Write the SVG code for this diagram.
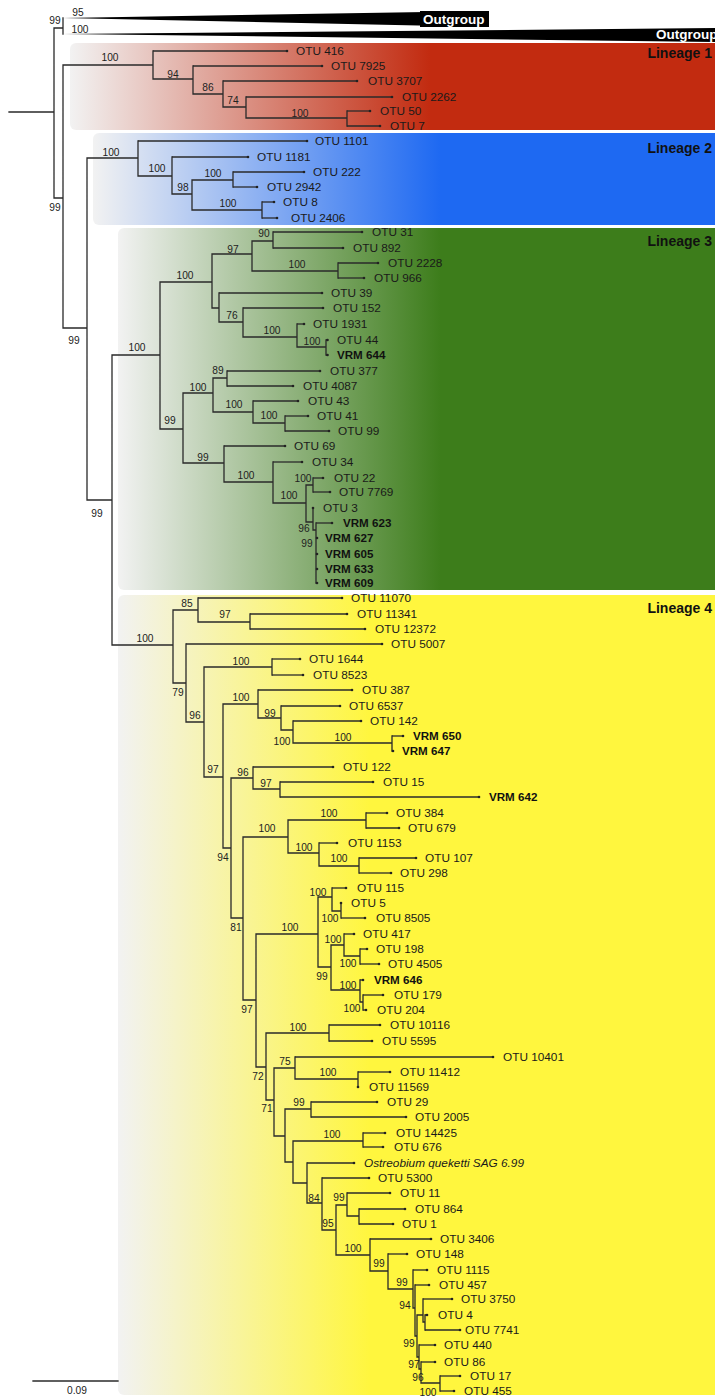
<svg xmlns="http://www.w3.org/2000/svg" width="715" height="1398" viewBox="0 0 715 1398">
<style>
.br{fill:none;stroke:#2a2a2a;stroke-width:1.3;stroke-linecap:square}
.tp{fill:none;stroke:#2a2a2a;stroke-width:1.3;marker-end:url(#dot)}
.lb{font-family:"Liberation Sans",Arial,sans-serif;font-size:11.8px;fill:#1a1a1a}
.vr{font-family:"Liberation Sans",Arial,sans-serif;font-size:11.6px;font-weight:bold;fill:#111}
.it{font-family:"Liberation Sans",Arial,sans-serif;font-size:11.8px;font-style:italic;fill:#1a1a1a}
.sp{font-family:"Liberation Sans",Arial,sans-serif;font-size:10.2px;fill:#222;text-anchor:middle}
.ln{font-family:"Liberation Sans",Arial,sans-serif;font-size:14px;font-weight:bold;fill:#111;text-anchor:end}
.og{font-family:"Liberation Sans",Arial,sans-serif;font-size:13.5px;font-weight:bold;fill:#fff}
</style>
<defs>
<marker id="dot" markerWidth="4" markerHeight="4" refX="2" refY="2" markerUnits="userSpaceOnUse"><circle cx="2" cy="2" r="1.3" fill="#222"/></marker>
<linearGradient id="gRed" gradientUnits="userSpaceOnUse" x1="70" y1="0" x2="430" y2="0"><stop offset="0" stop-color="#f2f2f2"/><stop offset="1" stop-color="#c22b10"/></linearGradient>
<linearGradient id="gBlue" gradientUnits="userSpaceOnUse" x1="93" y1="0" x2="440" y2="0"><stop offset="0" stop-color="#f2f2f2"/><stop offset="1" stop-color="#1e69f2"/></linearGradient>
<linearGradient id="gGreen" gradientUnits="userSpaceOnUse" x1="118" y1="0" x2="440" y2="0"><stop offset="0" stop-color="#f2f2f2"/><stop offset="1" stop-color="#3d7d1b"/></linearGradient>
<linearGradient id="gYellow" gradientUnits="userSpaceOnUse" x1="118" y1="0" x2="370" y2="0"><stop offset="0" stop-color="#f2f2f2"/><stop offset="1" stop-color="#fff63e"/></linearGradient>
</defs>
<rect width="715" height="1398" fill="#fff"/>

<g id="lineage-boxes">
<rect x="70" y="43" width="660" height="87" rx="6" fill="url(#gRed)"/>
<rect x="93" y="133" width="640" height="92" rx="6" fill="url(#gBlue)"/>
<rect x="118" y="228" width="620" height="362" rx="6" fill="url(#gGreen)"/>
<rect x="118" y="595" width="620" height="800" rx="6" fill="url(#gYellow)"/>
<text class="ln" x="712" y="58">Lineage 1</text>
<text class="ln" x="712" y="153">Lineage 2</text>
<text class="ln" x="712" y="246">Lineage 3</text>
<text class="ln" x="712" y="613">Lineage 4</text>
</g>

<g id="outgroup-1">
<polygon points="63,18 489,11 489,27" fill="#000"/>
<rect x="420" y="11" width="69" height="16" fill="#000"/>
<text class="og" x="423" y="24">Outgroup</text>
</g>
<g id="outgroup-2">
<polygon points="63,34 715,28 715,42" fill="#000"/>
<text class="og" x="656" y="39">Outgroup</text>
</g>

<g id="connectors">
<path class="br" d="M9,112H54 M54,28V198 M54,28H63 M63,18V34 M54,198H63 M63,65V328 M63,328H87 M87,158V500 M87,500H112 M112,355V645
M63,65H153 M153,51V79 M153,79H193 M193,66V94 M193,94H223 M223,81V107 M223,107H246 M246,97V118 M246,118H347 M347,111V126
M87,158H138 M138,141V176 M138,176H172 M172,157V194 M172,194H192 M192,180V210 M192,180H233 M233,172V187 M192,210H262 M262,202V218
M112,355H160 M160,282V429 M160,282H212 M212,254V308 M212,254H252 M252,241V271 M252,241H273 M273,232V248 M252,271H338 M338,263V278
M212,308H219 M219,293V322 M219,322H243 M243,308V337 M243,337H297 M297,324V347 M297,347H326 M326,340V355
M160,429H183 M183,393V463 M183,393H213 M213,378V412 M213,378H227 M227,371V386 M213,412H253 M253,401V423 M253,423H285 M285,416V431
M183,463H224 M224,446V482 M224,482H273 M273,462V503 M273,503H306 M306,485V522 M306,485H313 M313,478V492 M306,522H313 M313,508V530 M313,530H316 M316,523V583
M112,645H173 M173,610V683 M173,610H198 M198,598V622 M198,622H250 M250,614V629 M173,683H186 M186,644V722 M186,722H204 M204,667V777
M204,667H272 M272,659V675 M204,777H223 M223,704V848 M223,704H258 M258,690V718 M258,718H281 M281,706V730 M281,730H293 M293,721V743 M293,743H392 M392,736V751
M223,848H231 M231,778V918 M231,778H253 M253,767V789 M253,789H280 M280,782V797
M231,918H243 M243,837V1000 M243,837H288 M288,820V853 M288,820H366 M366,813V828 M288,853H319 M319,843V866 M319,866H359 M359,858V873
M243,1000H256 M256,934V1067 M256,934H318 M318,897V967 M318,897H332 M332,888V911 M332,911H341 M341,903V918
M318,967H331 M331,945V990 M331,945H344 M344,934V956 M344,956H360 M360,949V964 M331,990H360 M360,980V1002 M360,1002H363 M363,995V1010
M256,1067H266 M266,1033V1100 M266,1033H329 M329,1025V1041 M266,1100H274 M274,1068V1136 M274,1068H295 M295,1057V1079 M295,1079H358 M358,1072V1087
M274,1136H285 M285,1109V1162 M285,1109H311 M311,1102V1117 M285,1162H293 M293,1141V1183 M293,1141H363 M363,1133V1147 M293,1183H307 M307,1163V1203
M307,1203H322 M322,1178V1230 M322,1230H336 M336,1205V1255 M336,1205H347 M347,1193V1216 M347,1216H359 M359,1209V1224
M336,1255H370 M370,1239V1271 M370,1271H388 M388,1254V1289 M388,1289H413 M413,1270V1308 M413,1308H415 M415,1285V1336 M415,1336H417 M417,1315V1357
M417,1315H423 M423,1299V1322 M423,1322H425 M425,1315V1330 M417,1357H419 M419,1345V1369 M419,1369H421 M421,1362V1383 M421,1383H440 M440,1376V1391"/>
<path class="tp" d="M153,51H287"/>
<path class="tp" d="M193,66H322"/>
<path class="tp" d="M223,81H357"/>
<path class="tp" d="M246,97H392"/>
<path class="tp" d="M347,111H370"/>
<path class="tp" d="M347,126H380"/>
<path class="tp" d="M138,141H307"/>
<path class="tp" d="M172,157H248"/>
<path class="tp" d="M233,172H304"/>
<path class="tp" d="M233,187H257"/>
<path class="tp" d="M262,202H274"/>
<path class="tp" d="M262,218H277"/>
<path class="tp" d="M273,232H362"/>
<path class="tp" d="M273,248H343"/>
<path class="tp" d="M338,263H378"/>
<path class="tp" d="M338,278H364"/>
<path class="tp" d="M219,293H322"/>
<path class="tp" d="M243,308H323"/>
<path class="tp" d="M297,324H304"/>
<path class="tp" d="M326,340H327.5"/>
<path class="tp" d="M326,355H327.5"/>
<path class="tp" d="M227,371H320"/>
<path class="tp" d="M227,386H293"/>
<path class="tp" d="M253,401H298"/>
<path class="tp" d="M285,416H308"/>
<path class="tp" d="M285,431H329"/>
<path class="tp" d="M224,446H285"/>
<path class="tp" d="M273,462H302"/>
<path class="tp" d="M313,478H323"/>
<path class="tp" d="M313,492H330"/>
<path class="tp" d="M313,509V508"/>
<path class="tp" d="M316,523H332"/>
<path class="tp" d="M316,538H317"/>
<path class="tp" d="M316,554H317"/>
<path class="tp" d="M316,569H317"/>
<path class="tp" d="M316,583H317"/>
<path class="tp" d="M198,598H342"/>
<path class="tp" d="M250,614H347"/>
<path class="tp" d="M250,629H365"/>
<path class="tp" d="M186,644H382"/>
<path class="tp" d="M272,659H300"/>
<path class="tp" d="M272,675H303"/>
<path class="tp" d="M258,690H352"/>
<path class="tp" d="M281,706H340"/>
<path class="tp" d="M293,721H361"/>
<path class="tp" d="M392,736H403"/>
<path class="tp" d="M392,751H393"/>
<path class="tp" d="M253,767H333"/>
<path class="tp" d="M280,782H373"/>
<path class="tp" d="M280,797H479"/>
<path class="tp" d="M366,813H387"/>
<path class="tp" d="M366,828H399"/>
<path class="tp" d="M319,843H337"/>
<path class="tp" d="M359,858H416"/>
<path class="tp" d="M359,873H391"/>
<path class="tp" d="M332,888H346"/>
<path class="tp" d="M341,904V903"/>
<path class="tp" d="M341,918H365"/>
<path class="tp" d="M344,934H354"/>
<path class="tp" d="M360,949H367"/>
<path class="tp" d="M360,964H379"/>
<path class="tp" d="M360,980H363"/>
<path class="tp" d="M363,995H383"/>
<path class="tp" d="M363,1010H366"/>
<path class="tp" d="M329,1025H380"/>
<path class="tp" d="M329,1041H372"/>
<path class="tp" d="M295,1057H493"/>
<path class="tp" d="M358,1072H390"/>
<path class="tp" d="M358,1086V1087"/>
<path class="tp" d="M311,1102H377"/>
<path class="tp" d="M311,1117H406"/>
<path class="tp" d="M363,1133H385"/>
<path class="tp" d="M363,1147H383"/>
<path class="tp" d="M307,1163H354"/>
<path class="tp" d="M322,1178H369"/>
<path class="tp" d="M347,1193H390"/>
<path class="tp" d="M359,1209H405"/>
<path class="tp" d="M359,1224H393"/>
<path class="tp" d="M370,1239H431"/>
<path class="tp" d="M388,1254H407"/>
<path class="tp" d="M413,1270H427"/>
<path class="tp" d="M415,1285H429"/>
<path class="tp" d="M423,1299H452"/>
<path class="tp" d="M425,1315H427"/>
<path class="tp" d="M425,1330H460"/>
<path class="tp" d="M419,1345H435"/>
<path class="tp" d="M421,1362H435"/>
<path class="tp" d="M440,1376H460"/>
<path class="tp" d="M440,1391H454"/>
</g>

<g id="support">
<text class="sp" x="55" y="24">99</text>
<text class="sp" x="78" y="16">95</text>
<text class="sp" x="80" y="33">100</text>
<text class="sp" x="55" y="211">99</text>
<text class="sp" x="74" y="344">99</text>
<text class="sp" x="97" y="517">99</text>
<text class="sp" x="110" y="61">100</text>
<text class="sp" x="173" y="78">94</text>
<text class="sp" x="208" y="91">86</text>
<text class="sp" x="233" y="104">74</text>
<text class="sp" x="300" y="117">100</text>
<text class="sp" x="111" y="156">100</text>
<text class="sp" x="157" y="172">100</text>
<text class="sp" x="183" y="191">98</text>
<text class="sp" x="213" y="177">100</text>
<text class="sp" x="228" y="207">100</text>
<text class="sp" x="137" y="351">100</text>
<text class="sp" x="185" y="279">100</text>
<text class="sp" x="233" y="253">97</text>
<text class="sp" x="264" y="237">90</text>
<text class="sp" x="297" y="268">100</text>
<text class="sp" x="232" y="319">76</text>
<text class="sp" x="272" y="334">100</text>
<text class="sp" x="312" y="345">100</text>
<text class="sp" x="170" y="424">99</text>
<text class="sp" x="198" y="391">100</text>
<text class="sp" x="218" y="374">89</text>
<text class="sp" x="234" y="408">100</text>
<text class="sp" x="269" y="419">100</text>
<text class="sp" x="203" y="461">99</text>
<text class="sp" x="246" y="479">100</text>
<text class="sp" x="289" y="499">100</text>
<text class="sp" x="303" y="482">100</text>
<text class="sp" x="304" y="532">96</text>
<text class="sp" x="307" y="547">99</text>
<text class="sp" x="145" y="642">100</text>
<text class="sp" x="187" y="607">85</text>
<text class="sp" x="225" y="618">97</text>
<text class="sp" x="178" y="696">79</text>
<text class="sp" x="241" y="665">100</text>
<text class="sp" x="195" y="719">96</text>
<text class="sp" x="213" y="773">97</text>
<text class="sp" x="241" y="701">100</text>
<text class="sp" x="270" y="717">99</text>
<text class="sp" x="282" y="745">100</text>
<text class="sp" x="343" y="741">100</text>
<text class="sp" x="243" y="776">96</text>
<text class="sp" x="266" y="787">97</text>
<text class="sp" x="223" y="861">94</text>
<text class="sp" x="236" y="931">81</text>
<text class="sp" x="267" y="832">100</text>
<text class="sp" x="329" y="817">100</text>
<text class="sp" x="304" y="851">100</text>
<text class="sp" x="339" y="862">100</text>
<text class="sp" x="290" y="931">100</text>
<text class="sp" x="318" y="896">100</text>
<text class="sp" x="330" y="922">100</text>
<text class="sp" x="322" y="980">99</text>
<text class="sp" x="333" y="943">100</text>
<text class="sp" x="348" y="967">100</text>
<text class="sp" x="348" y="989">100</text>
<text class="sp" x="352" y="1012">100</text>
<text class="sp" x="247" y="1013">97</text>
<text class="sp" x="258" y="1080">72</text>
<text class="sp" x="298" y="1031">100</text>
<text class="sp" x="267" y="1112">71</text>
<text class="sp" x="285" y="1065">75</text>
<text class="sp" x="328" y="1076">100</text>
<text class="sp" x="299" y="1106">99</text>
<text class="sp" x="332" y="1138">100</text>
<text class="sp" x="314" y="1202">84</text>
<text class="sp" x="328" y="1227">95</text>
<text class="sp" x="339" y="1201">99</text>
<text class="sp" x="353" y="1252">100</text>
<text class="sp" x="379" y="1267">99</text>
<text class="sp" x="402" y="1286">99</text>
<text class="sp" x="405" y="1309">94</text>
<text class="sp" x="409" y="1347">99</text>
<text class="sp" x="414" y="1368">97</text>
<text class="sp" x="418" y="1381">96</text>
<text class="sp" x="428" y="1396">100</text>
</g>

<g id="otu-416"><text class="lb" x="296" y="55">OTU 416</text></g>
<g id="otu-7925"><text class="lb" x="331" y="70">OTU 7925</text></g>
<g id="otu-3707"><text class="lb" x="368" y="85">OTU 3707</text></g>
<g id="otu-2262"><text class="lb" x="402" y="101">OTU 2262</text></g>
<g id="otu-50"><text class="lb" x="380" y="115">OTU 50</text></g>
<g id="otu-7"><text class="lb" x="390" y="130">OTU 7</text></g>
<g id="otu-1101"><text class="lb" x="315" y="145">OTU 1101</text></g>
<g id="otu-1181"><text class="lb" x="257" y="161">OTU 1181</text></g>
<g id="otu-222"><text class="lb" x="313" y="176">OTU 222</text></g>
<g id="otu-2942"><text class="lb" x="267" y="191">OTU 2942</text></g>
<g id="otu-8"><text class="lb" x="283" y="206">OTU 8</text></g>
<g id="otu-2406"><text class="lb" x="291" y="222">OTU 2406</text></g>
<g id="otu-31"><text class="lb" x="372" y="236">OTU 31</text></g>
<g id="otu-892"><text class="lb" x="353" y="252">OTU 892</text></g>
<g id="otu-2228"><text class="lb" x="388" y="267">OTU 2228</text></g>
<g id="otu-966"><text class="lb" x="374" y="282">OTU 966</text></g>
<g id="otu-39"><text class="lb" x="331" y="297">OTU 39</text></g>
<g id="otu-152"><text class="lb" x="333" y="312">OTU 152</text></g>
<g id="otu-1931"><text class="lb" x="313" y="328">OTU 1931</text></g>
<g id="otu-44"><text class="lb" x="337" y="344">OTU 44</text></g>
<g id="vrm-644"><text class="vr" x="337" y="359">VRM 644</text></g>
<g id="otu-377"><text class="lb" x="330" y="375">OTU 377</text></g>
<g id="otu-4087"><text class="lb" x="303" y="390">OTU 4087</text></g>
<g id="otu-43"><text class="lb" x="308" y="405">OTU 43</text></g>
<g id="otu-41"><text class="lb" x="317" y="420">OTU 41</text></g>
<g id="otu-99"><text class="lb" x="338" y="435">OTU 99</text></g>
<g id="otu-69"><text class="lb" x="294" y="450">OTU 69</text></g>
<g id="otu-34"><text class="lb" x="312" y="466">OTU 34</text></g>
<g id="otu-22"><text class="lb" x="334" y="482">OTU 22</text></g>
<g id="otu-7769"><text class="lb" x="339" y="496">OTU 7769</text></g>
<g id="otu-3"><text class="lb" x="323" y="512">OTU 3</text></g>
<g id="vrm-623"><text class="vr" x="343" y="527">VRM 623</text></g>
<g id="vrm-627"><text class="vr" x="325" y="542">VRM 627</text></g>
<g id="vrm-605"><text class="vr" x="325" y="558">VRM 605</text></g>
<g id="vrm-633"><text class="vr" x="325" y="573">VRM 633</text></g>
<g id="vrm-609"><text class="vr" x="325" y="587">VRM 609</text></g>
<g id="otu-11070"><text class="lb" x="351" y="602">OTU 11070</text></g>
<g id="otu-11341"><text class="lb" x="357" y="618">OTU 11341</text></g>
<g id="otu-12372"><text class="lb" x="375" y="633">OTU 12372</text></g>
<g id="otu-5007"><text class="lb" x="391" y="648">OTU 5007</text></g>
<g id="otu-1644"><text class="lb" x="309" y="663">OTU 1644</text></g>
<g id="otu-8523"><text class="lb" x="313" y="679">OTU 8523</text></g>
<g id="otu-387"><text class="lb" x="362" y="694">OTU 387</text></g>
<g id="otu-6537"><text class="lb" x="349" y="710">OTU 6537</text></g>
<g id="otu-142"><text class="lb" x="370" y="725">OTU 142</text></g>
<g id="vrm-650"><text class="vr" x="413" y="740">VRM 650</text></g>
<g id="vrm-647"><text class="vr" x="402" y="755">VRM 647</text></g>
<g id="otu-122"><text class="lb" x="343" y="771">OTU 122</text></g>
<g id="otu-15"><text class="lb" x="383" y="786">OTU 15</text></g>
<g id="vrm-642"><text class="vr" x="489" y="801">VRM 642</text></g>
<g id="otu-384"><text class="lb" x="396" y="817">OTU 384</text></g>
<g id="otu-679"><text class="lb" x="408" y="832">OTU 679</text></g>
<g id="otu-1153"><text class="lb" x="348" y="847">OTU 1153</text></g>
<g id="otu-107"><text class="lb" x="425" y="862">OTU 107</text></g>
<g id="otu-298"><text class="lb" x="400" y="877">OTU 298</text></g>
<g id="otu-115"><text class="lb" x="357" y="892">OTU 115</text></g>
<g id="otu-5"><text class="lb" x="351" y="907">OTU 5</text></g>
<g id="otu-8505"><text class="lb" x="376" y="922">OTU 8505</text></g>
<g id="otu-417"><text class="lb" x="363" y="938">OTU 417</text></g>
<g id="otu-198"><text class="lb" x="376" y="953">OTU 198</text></g>
<g id="otu-4505"><text class="lb" x="388" y="968">OTU 4505</text></g>
<g id="vrm-646"><text class="vr" x="374" y="984">VRM 646</text></g>
<g id="otu-179"><text class="lb" x="394" y="999">OTU 179</text></g>
<g id="otu-204"><text class="lb" x="377" y="1014">OTU 204</text></g>
<g id="otu-10116"><text class="lb" x="390" y="1029">OTU 10116</text></g>
<g id="otu-5595"><text class="lb" x="382" y="1045">OTU 5595</text></g>
<g id="otu-10401"><text class="lb" x="503" y="1061">OTU 10401</text></g>
<g id="otu-11412"><text class="lb" x="400" y="1076">OTU 11412</text></g>
<g id="otu-11569"><text class="lb" x="369" y="1091">OTU 11569</text></g>
<g id="otu-29"><text class="lb" x="387" y="1106">OTU 29</text></g>
<g id="otu-2005"><text class="lb" x="415" y="1121">OTU 2005</text></g>
<g id="otu-14425"><text class="lb" x="396" y="1137">OTU 14425</text></g>
<g id="otu-676"><text class="lb" x="394" y="1151">OTU 676</text></g>
<g id="ostreobium"><text class="it" x="364" y="1167">Ostreobium queketti SAG 6.99</text></g>
<g id="otu-5300"><text class="lb" x="378" y="1182">OTU 5300</text></g>
<g id="otu-11"><text class="lb" x="400" y="1197">OTU 11</text></g>
<g id="otu-864"><text class="lb" x="415" y="1213">OTU 864</text></g>
<g id="otu-1"><text class="lb" x="402" y="1228">OTU 1</text></g>
<g id="otu-3406"><text class="lb" x="440" y="1243">OTU 3406</text></g>
<g id="otu-148"><text class="lb" x="416" y="1258">OTU 148</text></g>
<g id="otu-1115"><text class="lb" x="437" y="1274">OTU 1115</text></g>
<g id="otu-457"><text class="lb" x="439" y="1289">OTU 457</text></g>
<g id="otu-3750"><text class="lb" x="461" y="1303">OTU 3750</text></g>
<g id="otu-4"><text class="lb" x="438" y="1319">OTU 4</text></g>
<g id="otu-7741"><text class="lb" x="465" y="1334">OTU 7741</text></g>
<g id="otu-440"><text class="lb" x="444" y="1349">OTU 440</text></g>
<g id="otu-86"><text class="lb" x="444" y="1366">OTU 86</text></g>
<g id="otu-17"><text class="lb" x="470" y="1380">OTU 17</text></g>
<g id="otu-455"><text class="lb" x="464" y="1395">OTU 455</text></g>

<g id="scale-bar">
<path class="br" d="M33,1381H118"/>
<text class="sp" x="77" y="1394">0.09</text>
</g>
</svg>
